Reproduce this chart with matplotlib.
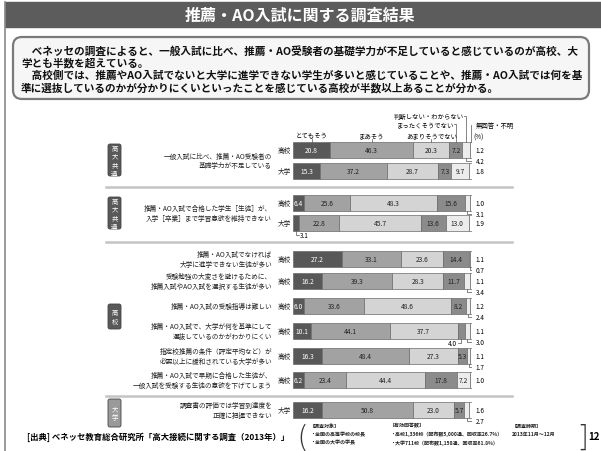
import numpy as np
import matplotlib
matplotlib.use("Agg")
import matplotlib.pyplot as plt
from matplotlib.patches import FancyBboxPatch, Rectangle

plt.rcParams['font.family'] = ['Noto Sans CJK JP', 'DejaVu Sans']

# ---- data ----
title = "推薦・AO入試に関する調査結果"
summary = [
    "　ベネッセの調査によると、一般入試に比べ、推薦・AO受験者の基礎学力が不足していると感じているのが高校、大",
    "学とも半数を超えている。",
    "　高校側では、推薦やAO入試でないと大学に進学できない学生が多いと感じていることや、推薦・AO入試では何を基",
    "準に選抜しているのかが分かりにくいといったことを感じている高校が半数以上あることが分かる。",
]
answers = ["とてもそう", "まあそう", "あまりそうでない", "まったくそうでない",
           "判断しない・わからない", "無回答・不明"]
groups = ["高\n大\n共\n通", "高\n大\n共\n通", "高\n校", "大\n学"]
items = [
    "一般入試に比べ、推薦・AO受験者の\n基礎学力が不足している",
    "推薦・AO入試で合格した学生［生徒］が、\n入学［卒業］まで学習意欲を維持できない",
    "推薦・AO入試でなければ\n大学に進学できない生徒が多い",
    "受験勉強の大変さを避けるために、\n推薦入試やAO入試を選択する生徒が多い",
    "推薦・AO入試の受験指導は難しい",
    "推薦・AO入試で、大学が何を基準にして\n選抜しているのかがわかりにくい",
    "指定校推薦の条件（評定平均など）が\n必要以上に緩和されている大学が多い",
    "推薦・AO入試で早期に合格した生徒が、\n一般入試を受験する生徒の意欲を下げてしまう",
    "調査書の評価では学習到達度を\n正確に把握できない",
]
item_group = [0, 1, 2, 2, 2, 2, 2, 2, 3]
row_item = [0, 0, 1, 1, 2, 3, 4, 5, 6, 7, 8]
respondents = ["高校", "大学", "高校", "大学", "高校", "高校", "高校",
               "高校", "高校", "高校", "大学"]
values = np.array([
    [20.8, 46.3, 20.3, 7.2, 4.2, 1.2],
    [15.3, 37.2, 28.7, 7.3, 9.7, 1.8],
    [6.4, 25.6, 48.3, 15.6, 3.1, 1.0],
    [3.1, 22.8, 45.7, 13.6, 13.0, 1.9],
    [27.2, 33.1, 23.6, 14.4, 0.7, 1.1],
    [16.2, 39.3, 28.3, 11.7, 3.4, 1.1],
    [6.0, 33.6, 48.6, 8.2, 2.4, 1.2],
    [10.1, 44.1, 37.7, 4.0, 3.0, 1.1],
    [16.3, 48.4, 27.3, 5.3, 1.7, 1.1],
    [6.2, 23.4, 44.4, 17.8, 7.2, 1.0],
    [16.2, 50.8, 23.0, 5.7, 2.7, 1.6],
])
source = "[出典] ベネッセ教育総合研究所「高大接続に関する調査（2013年）」"
notes = [
    ["【調査対象】", "・全国の高等学校の校長", "・全国の大学の学長"],
    ["【有効回答数】", "・高校1,336校（配布数5,000通、回収率26.7%）", "・大学711校（配布数1,150通、回収率61.8%）"],
    ["【調査時期】", "2013年11月～12月"],
]
page = "12"

# ---- layout (pixels) ----
colors = ["#585858", "#a2a2a2", "#d4d4d4", "#8b8b8b", "#ececec", "#ffffff"]
row_y = [151, 172, 204, 224, 260, 282, 307, 332, 357, 381, 411]
bar_h = 16
group_box = [(145, 177), (198, 230), (305, 330), (400, 428)]
group_col = ["#595959", "#595959", "#595959", "#9a9a9a"]
sep_y = [188, 243, 397]

fig = plt.figure(figsize=(6.01, 4.52), dpi=100)
ax = fig.add_axes([0, 0, 1, 1])
ax.set_xlim(0, 601)
ax.set_ylim(452, 0)
ax.axis("off")

# frame and title bar
ax.plot([5, 5], [3, 452], color="#8a8a8a", lw=1.2)
ax.add_patch(Rectangle((5, 3), 596, 25, color="#5c5c5c"))
ax.text(300, 16, title, color="white", fontsize=11.5, fontweight="bold",
        ha="center", va="center")

# summary box
ax.add_patch(FancyBboxPatch((13, 38), 576, 62, boxstyle="round,pad=0,rounding_size=9",
                            facecolor="#f6f6f6", edgecolor="#7a7a7a", lw=1.6))
for i, line in enumerate(summary):
    ax.text(21, 51 + i * 12.3, line, fontsize=7.65, fontweight="bold",
            ha="left", va="center", color="#111")

# separators
for y in sep_y:
    ax.plot([106, 512], [y, y], color="#c4c4c4", lw=1.8)

# group boxes
for g, (y0, y1), c in zip(groups, group_box, group_col):
    ax.add_patch(FancyBboxPatch((108, y0), 13, y1 - y0,
                                boxstyle="round,pad=0,rounding_size=2",
                                facecolor=c, edgecolor="#444", lw=0.6))
    ax.text(114.5, (y0 + y1) / 2, g, color="white", fontsize=4.6,
            ha="center", va="center", linespacing=1.05)

# item labels
for j, txt in enumerate(items):
    ys = [row_y[i] for i in range(len(row_y)) if row_item[i] == j]
    ax.text(272, np.mean(ys), txt, fontsize=4.8, ha="right", va="center",
            linespacing=1.25, color="#222")
for y, r in zip(row_y, respondents):
    ax.text(284, y, r, fontsize=4.8, ha="center", va="center", color="#222")

# footer
ax.text(27, 437, source, fontsize=6, fontweight="bold", ha="left", va="center")
ax.text(302, 438, "(", fontsize=20, ha="center", va="center", color="#333",
        fontweight="light")
ax.text(584, 437, "]", fontsize=20, ha="center", va="center", color="#333",
        fontweight="light")
for x, col in zip([310, 390, 512], notes):
    for k, t in enumerate(col):
        ax.text(x, 426 + k * 8.5, t, fontsize=3.6, fontweight="bold",
                ha="left", va="center", color="#222")
ax.text(594, 437, page, fontsize=7, fontweight="bold", ha="center", va="center")

# ---- bars ----
bax = fig.add_axes([293 / 601, 0, 179 / 601, 1])
bax.set_xlim(0, 100)
bax.set_ylim(452, 0)
bax.axis("off")
bax.patch.set_alpha(0)

lefts = np.hstack([np.zeros((len(values), 1)), np.cumsum(values, axis=1)[:, :-1]])
for k in range(6):
    bax.barh(row_y, values[:, k], left=lefts[:, k], height=bar_h,
             color=colors[k], edgecolor="#6a6a6a", lw=0.5)

lc = "#555"
for i, y in enumerate(row_y):
    for k in range(6):
        v = values[i, k]
        cx = lefts[i, k] + v / 2
        if k == 5:
            bax.plot([100, 101.6], [y, y], color=lc, lw=0.5)
            bax.text(102, y, f"{v:.1f}", fontsize=4.6, ha="left", va="center")
        elif v >= 5:
            bax.text(cx, y, f"{v:.1f}", fontsize=4.8, ha="center", va="center",
                     color="white" if k == 0 else "#222")
        elif k == 4:
            bax.plot([cx, cx, 101.6], [y + bar_h / 2, y + 11, y + 11], color=lc, lw=0.5)
            bax.text(102, y + 11, f"{v:.1f}", fontsize=4.6, ha="left", va="center")
        elif cx < 50:
            bax.plot([cx, cx, cx + 2], [y + bar_h / 2, y + 12, y + 12], color=lc, lw=0.5)
            bax.text(cx + 2.3, y + 12, f"{v:.1f}", fontsize=4.6, ha="left", va="center")
        else:
            bax.plot([cx, cx, cx - 2], [y + bar_h / 2, y + 12, y + 12], color=lc, lw=0.5)
            bax.text(cx - 2.3, y + 12, f"{v:.1f}", fontsize=4.6, ha="right", va="center")

# legend labels above first row
top = row_y[0] - bar_h / 2
c0 = lefts[0] + values[0] / 2
leg_y = [136, 136, 136, 125, 117, 126]
for k in range(6):
    cx = c0[k]
    if k < 3:
        bax.text(cx, leg_y[k], answers[k], fontsize=4.6, ha="center", va="center")
        bax.plot([cx, cx], [leg_y[k] + 3.5, top], color=lc, lw=0.5)
    elif k < 5:
        bax.text(cx - 1.2, leg_y[k], answers[k], fontsize=4.6, ha="right", va="center")
        bax.plot([cx - 1, cx, cx], [leg_y[k], leg_y[k], top], color=lc, lw=0.5)
    else:
        bax.text(cx + 2.5, leg_y[k], answers[k], fontsize=4.6, ha="left", va="center")
        bax.plot([cx + 2, cx, cx], [leg_y[k], leg_y[k], top], color=lc, lw=0.5)
bax.text(101, 138, "(%)", fontsize=4.6, ha="left", va="center")

fig.savefig("out.png", dpi=100)
